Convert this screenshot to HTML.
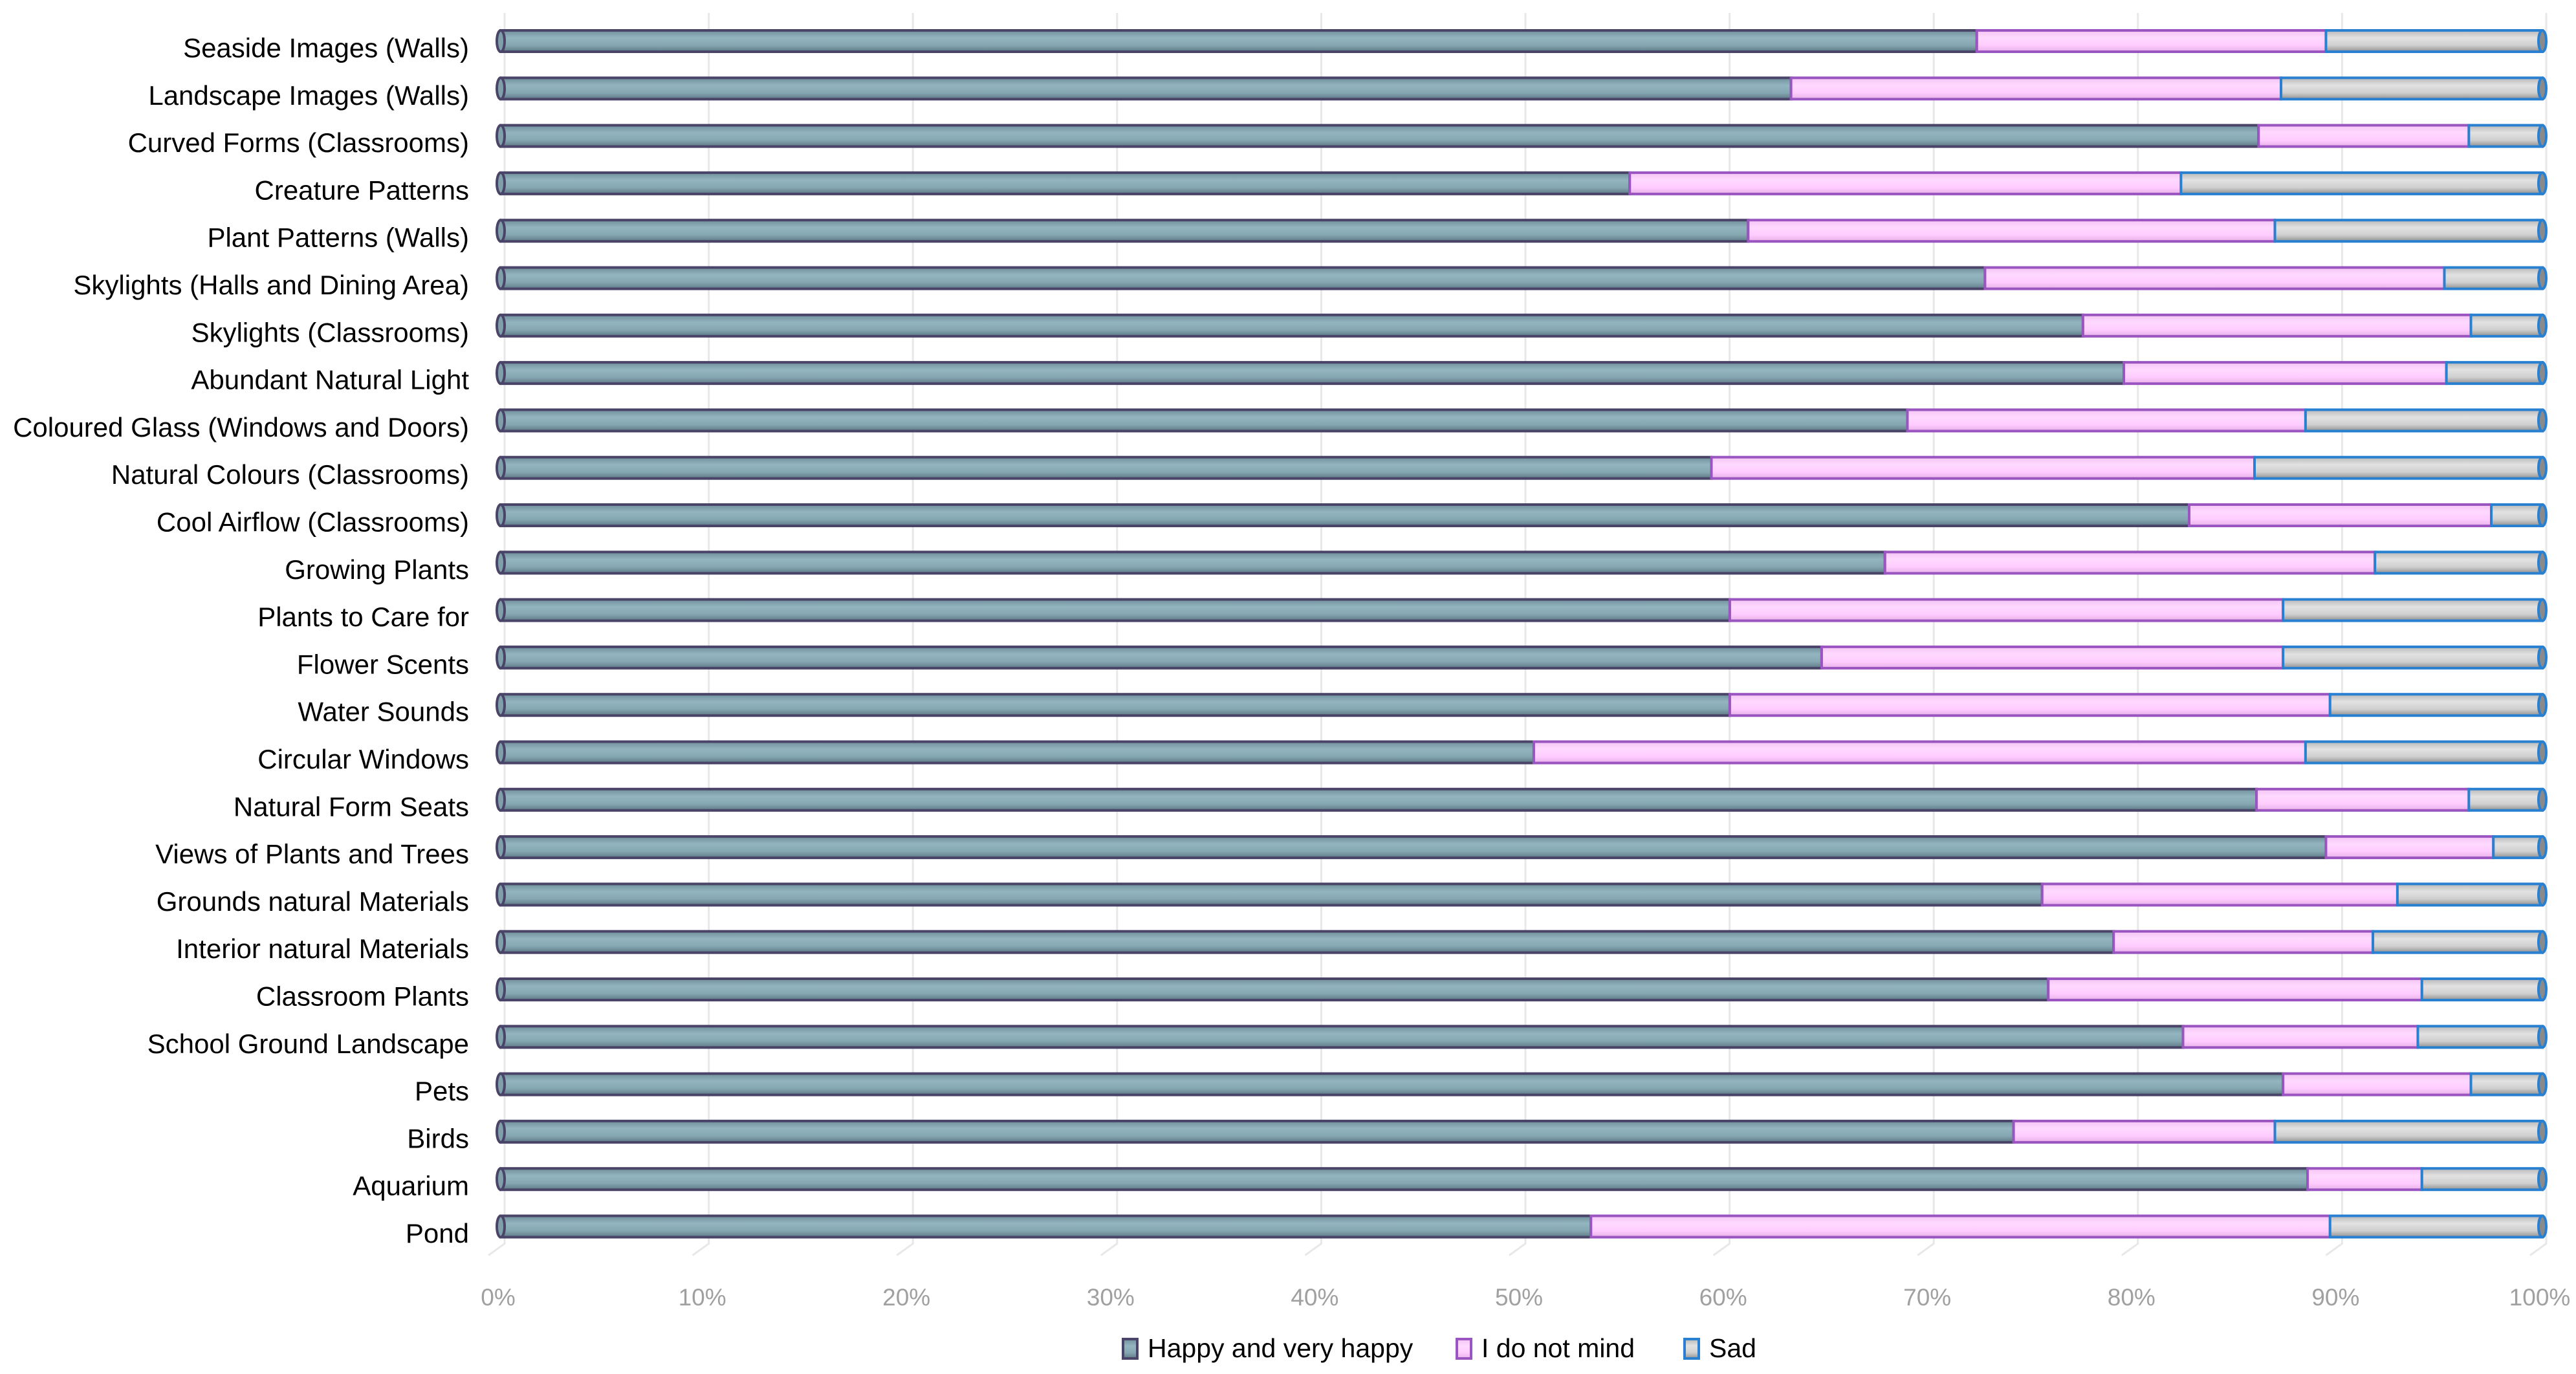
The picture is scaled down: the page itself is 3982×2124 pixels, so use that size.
<!DOCTYPE html>
<html><head><meta charset="utf-8">
<style>
html,body{margin:0;padding:0;background:#fff;}
svg{display:block;font-family:"Liberation Sans",sans-serif;}
</style></head>
<body>
<svg id="chart" width="3982" height="2124" viewBox="0 0 3982 2124">
<defs>
<linearGradient id="gHappy" x1="0" y1="0" x2="0" y2="1">
<stop offset="0" stop-color="#6f8f9b"/><stop offset="0.35" stop-color="#93b5c0"/><stop offset="0.7" stop-color="#85a7b2"/><stop offset="1" stop-color="#5d7886"/></linearGradient>
<linearGradient id="gMind" x1="0" y1="0" x2="0" y2="1">
<stop offset="0" stop-color="#f3c4f3"/><stop offset="0.35" stop-color="#ffd9ff"/><stop offset="0.7" stop-color="#ffccff"/><stop offset="1" stop-color="#e6b0e6"/></linearGradient>
<linearGradient id="gSad" x1="0" y1="0" x2="0" y2="1">
<stop offset="0" stop-color="#b8b8b8"/><stop offset="0.35" stop-color="#e2e2e2"/><stop offset="0.7" stop-color="#cfcfcf"/><stop offset="1" stop-color="#909090"/></linearGradient>
</defs>
<g id="grid"></g>
<g id="bars"></g>
<g id="labels"></g>
<g id="ticks"></g>
<g id="legend">
<g><rect x="1736" y="2070" width="22" height="30" fill="url(#gHappy)" stroke="#4a4468" stroke-width="4"/><text x="1774" y="2098" font-size="41" fill="#000">Happy and very happy</text></g>
<g><rect x="2252" y="2070" width="22" height="30" fill="url(#gMind)" stroke="#9a55c0" stroke-width="4"/><text x="2290" y="2098" font-size="41" fill="#000">I do not mind</text></g>
<g><rect x="2604" y="2070" width="22" height="30" fill="url(#gSad)" stroke="#2a80d0" stroke-width="4"/><text x="2642" y="2098" font-size="41" fill="#000">Sad</text></g>
</g>
</svg>
<script>
const categories = ["Seaside Images (Walls)","Landscape Images (Walls)","Curved Forms (Classrooms)","Creature Patterns","Plant Patterns (Walls)","Skylights (Halls and Dining Area)","Skylights (Classrooms)","Abundant Natural Light","Coloured Glass (Windows and Doors)","Natural Colours (Classrooms)","Cool Airflow (Classrooms)","Growing Plants","Plants to Care for","Flower Scents","Water Sounds","Circular Windows","Natural Form Seats","Views of Plants and Trees","Grounds natural Materials","Interior natural Materials","Classroom Plants","School Ground Landscape","Pets","Birds","Aquarium","Pond"];
const happy = [72.3,63.2,86.1,55.3,61.1,72.7,77.5,79.5,68.9,59.3,82.7,67.8,60.2,64.7,60.2,50.6,86.0,89.4,75.5,79.0,75.8,82.4,87.3,74.1,88.5,53.4];
const noMind = [17.1,24.0,10.3,27.0,25.8,22.5,19.0,15.8,19.5,26.6,14.8,24.0,27.1,22.6,29.4,37.8,10.4,8.2,17.4,12.7,18.3,11.5,9.2,12.8,5.6,36.2];
const sad = [10.6,12.8,3.6,17.7,13.1,4.8,3.5,4.7,11.6,14.1,2.5,8.2,12.7,12.7,10.4,11.6,3.6,2.4,7.1,8.3,5.9,6.1,3.5,13.1,5.9,10.4];
const tickValues = [0,10,20,30,40,50,60,70,80,90,100];
const tickLabels = ["0%","10%","20%","30%","40%","50%","60%","70%","80%","90%","100%"];

const NS="http://www.w3.org/2000/svg";
const X0=774, X1=3930, Y0=63.5, STEP=73.3, BH=33;
function xs(v){return X0+(X1-X0)*v/100;}
function ys(i){return Y0+STEP*i;}
function mk(tag,attrs,parent){const e=document.createElementNS(NS,tag);for(const k in attrs)e.setAttribute(k,attrs[k]);parent.appendChild(e);return e;}
const grid=document.getElementById('grid'),bars=document.getElementById('bars'),labels=document.getElementById('labels'),ticks=document.getElementById('ticks');
const yTop=20, yBot=ys(categories.length-1)+BH/2+10;
tickValues.forEach((v,i)=>{
  const gx=xs(v)+6;
  const l=mk('path',{d:`M${gx},${yTop} L${gx},${yBot} L${gx-25},${yBot+18}`,stroke:'#e8e8e8','stroke-width':3,fill:'none'},grid);
  
  
  const t=mk('text',{x:xs(v)-4,y:2018,'font-size':37,fill:'#a0a0a0','text-anchor':'middle'},ticks);
  t.textContent=tickLabels[i];
  
  
});
const series=[{d:happy,f:'url(#gHappy)',s:'#4a4468',n:'happy'},{d:noMind,f:'url(#gMind)',s:'#9a55c0',n:'do-not-mind'},{d:sad,f:'url(#gSad)',s:'#2a80d0',n:'sad'}];
categories.forEach((c,i)=>{
  const cy=ys(i);
  let acc=0;
  series.forEach((s,si)=>{
    const a=xs(acc), b=xs(acc+s.d[i]);
    const r=mk('rect',{x:a,y:cy-BH/2,width:Math.max(0,b-a),height:BH,fill:s.f,stroke:s.s,'stroke-width':4},bars);
    
    
    if(si===0){const e=mk('ellipse',{cx:a,cy:cy,rx:6,ry:BH/2,fill:'#7fa0ab',stroke:s.s,'stroke-width':4},bars);
      
      }
    if(si===2){const e=mk('ellipse',{cx:b,cy:cy,rx:6,ry:BH/2,fill:'#8a8a8a',stroke:s.s,'stroke-width':4},bars);
      
      }
    acc+=s.d[i];
  });
  const t=mk('text',{x:725,y:cy+25,'font-size':42,fill:'#000','text-anchor':'end'},labels);
  t.textContent=c;
  
  
});
</script>
</body></html>
